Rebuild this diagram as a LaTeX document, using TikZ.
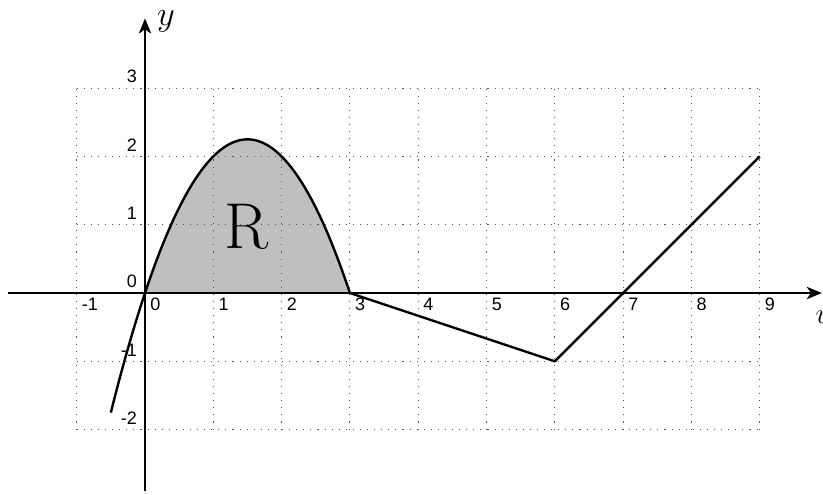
\documentclass[tikz,border=0pt]{standalone}
\usepackage{fontspec}
\setsansfont{Liberation Sans}
\usetikzlibrary{arrows.meta}
\definecolor{regfill}{HTML}{BFBFBF}
\definecolor{gridgray}{HTML}{555555}

\begin{document}
\begin{tikzpicture}[
  >={Stealth[length=2.2mm, width=1.8mm, inset=0.6mm]},
  axisline/.style={line width=1pt, ->},
  curveline/.style={line width=1pt, line join=round},
  gridline/.style={gridgray, line width=0.45pt, dash pattern=on 0.45pt off 2.5pt},
  xtick/.style={below right, inner sep=2pt, font=\sffamily\fontsize{7.5}{9}\selectfont},
  ytick/.style={above left, inner sep=2pt, xshift=-1.2pt, font=\sffamily\fontsize{7.5}{9}\selectfont},
]
\useasboundingbox (-2.123,-2.943) rectangle (9.927,4.29);

% Shaded region under the arch
\fill[regfill] plot[domain=0:3, samples=60] (\x, {3*\x-\x*\x}) -- cycle;

% Dotted grid
\draw[gridline] (-1,-2) grid (9,3);

% Region label
\node[font=\fontsize{27}{30}\selectfont] (reg) at (1.49,0.97) {R};

% ============ Graph ============
\draw[curveline] plot[domain=-0.5:3, samples=80] (\x, {3*\x-\x*\x});
\coordinate (p3) at (3,0);
\coordinate (p6) at (6,-1);
\coordinate (p9) at (9,2);
\draw[curveline] (p3) -- (p6) -- (p9);

% ============ Axes ============
\coordinate (xa) at (-2,0);
\coordinate (xb) at (9.91,0);
\coordinate (ya) at (0,-2.9);
\coordinate (yb) at (0,4.02);
\draw[axisline] (xa) -- (xb);
\draw[axisline] (ya) -- (yb);
\node[font=\Large, anchor=base west, inner sep=0pt] (ylab) at (0.17,3.92) {$y$};
\node[font=\large, anchor=base west, inner sep=0pt] (xlab) at (9.81,-0.44) {$u$};

% Tick labels
\foreach \i in {-1,0,...,9}
  \node[xtick] (x\i) at (\i,0) {\i};
\foreach \j in {-2,-1,0,1,2,3}
  \node[ytick] (y\j) at (0,\j) {\j};

\end{tikzpicture}
\end{document}
